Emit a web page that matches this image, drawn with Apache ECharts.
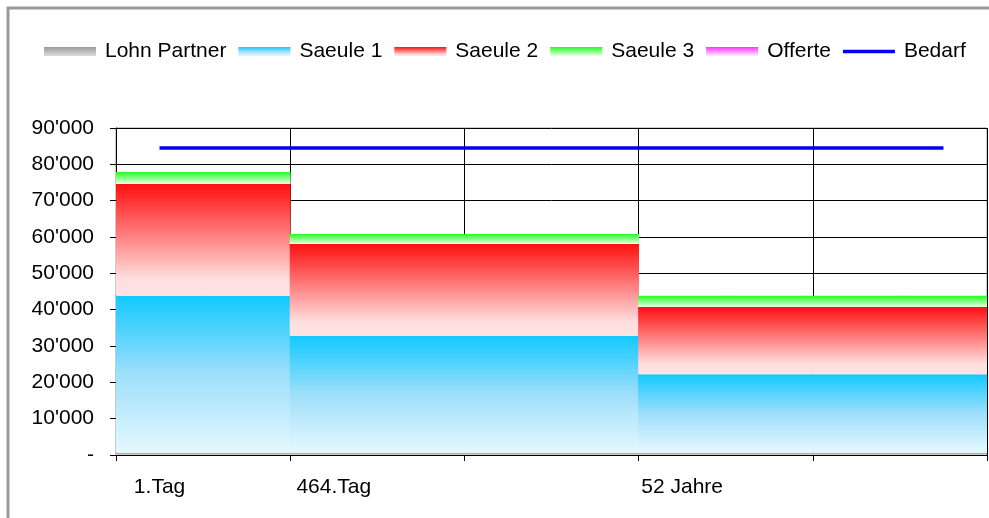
<!DOCTYPE html>
<html>
<head>
<meta charset="utf-8">
<style>
  html, body { margin: 0; padding: 0; background: #fff; }
  #chart { width: 989px; height: 518px; }
</style>
<script src="https://cdn.jsdelivr.net/npm/echarts@6/dist/echarts.min.js"></script>
</head>
<body>
<div id="chart"></div>
<script>
// 10 Kategorien, Beschriftung nur bei einigen
var categories = ['1.Tag', '', '464.Tag', '', '', '', '52 Jahre', '', '', ''];
var lohnPartner = [600, 600, 600, 600, 600, 600, 600, 600, 600, 600];
var saeule1 = [43200, 43200, 32200, 32200, 32200, 32200, 21600, 21600, 21600, 21600];
var saeule2 = [30800, 30800, 25300, 25300, 25300, 25300, 18500, 18500, 18500, 18500];
var saeule3 = [3300, 3300, 2700, 2700, 2700, 2700, 3100, 3100, 3100, 3100];
var offerte = [0, 0, 0, 0, 0, 0, 0, 0, 0, 0];
var bedarf = [84500, 84500, 84500, 84500, 84500, 84500, 84500, 84500, 84500, 84500];
var yTicks = { min: 0, max: 90000, step: 10000 };

var FONT = 'Liberation Sans, Arial, sans-serif';

function grad(stops) {
  return new echarts.graphic.LinearGradient(0, 0, 0, 1, stops.map(function (s) {
    return { offset: s[0], color: s[1] };
  }));
}

var colGray = grad([[0, '#9a9a9a'], [1, '#dcdcdc']]);
var colBlue = grad([[0, '#12c9ff'], [0.5, '#9edffa'], [1, '#e6f8ff']]);
var colRed = grad([[0, '#ff1010'], [0.85, '#ffdede'], [1, '#ffe2e2']]);
var colGreen = grad([[0, '#22ff22'], [1, '#eaffea']]);
var colMagenta = grad([[0, '#ff33ff'], [1, '#fff0ff']]);

function fmt(v) {
  if (v === 0) return '-';
  return String(v).replace(/\B(?=(\d{3})+(?!\d))/g, "'");
}

// jede zweite Kategorie-Grenze
function everyOther(i) { return i % 2 === 0; }

function barSeries(name, data, color) {
  return {
    name: name,
    type: 'bar',
    stack: 'total',
    data: data,
    barWidth: 88,   // etwas breiter als die Kategorie, damit keine Fugen sichtbar sind
    clip: true,
    itemStyle: { color: color, borderWidth: 0 },
    emphasis: { disabled: true },
    animation: false
  };
}

var lineIcon = 'path://M0,0L52,0L52,0.01L0,0.01Z M0,2.8L52,2.8L52,6.2L0,6.2Z M0,8.99L52,8.99L52,9L0,9Z';

var chart = echarts.init(document.getElementById('chart'));
chart.setOption({
  backgroundColor: '#fff',
  animation: false,
  graphic: [{
    type: 'rect',
    shape: { x: 8, y: 8, width: 1000, height: 530 },
    style: { fill: 'none', stroke: '#9a9a9a', lineWidth: 3 },
    silent: true
  }],
  legend: {
    top: 41,
    left: 44,
    padding: 0,
    itemWidth: 52,
    itemHeight: 9,
    itemGap: 12,
    icon: 'rect',
    textStyle: { fontFamily: FONT, fontSize: 21, color: '#000', padding: [0, 0, 0, 4] },
    data: [
      'Lohn Partner', 'Saeule 1', 'Saeule 2', 'Saeule 3', 'Offerte',
      { name: 'Bedarf', icon: lineIcon }
    ]
  },
  grid: {
    left: 116, right: 2, top: 128, bottom: 63,
    show: true, borderColor: '#999', borderWidth: 1,
    containLabel: false
  },
  xAxis: {
    type: 'category',
    data: categories,
    boundaryGap: true,
    axisLine: { lineStyle: { color: '#000', width: 1 } },
    axisTick: { show: true, interval: everyOther, length: 6, lineStyle: { color: '#000' } },
    axisLabel: {
      interval: 0, margin: 22,
      fontFamily: FONT, fontSize: 21, color: '#000'
    },
    splitLine: { show: true, interval: everyOther, lineStyle: { color: '#000', width: 1 } }
  },
  yAxis: {
    type: 'value',
    min: yTicks.min,
    max: yTicks.max,
    interval: yTicks.step,
    axisLine: { show: true, lineStyle: { color: '#000', width: 1 } },
    axisTick: { show: true, length: 6, lineStyle: { color: '#000' } },
    axisLabel: {
      margin: 22,
      fontFamily: FONT, fontSize: 21, color: '#000',
      formatter: fmt
    },
    splitLine: { show: true, lineStyle: { color: '#000', width: 1 } }
  },
  series: [
    barSeries('Lohn Partner', lohnPartner, colGray),
    barSeries('Saeule 1', saeule1, colBlue),
    barSeries('Saeule 2', saeule2, colRed),
    barSeries('Saeule 3', saeule3, colGreen),
    barSeries('Offerte', offerte, colMagenta),
    {
      name: 'Bedarf',
      type: 'line',
      data: bedarf,
      symbol: 'none',
      color: '#0000ee',
      lineStyle: { color: '#0000ee', width: 3.5 },
      z: 5,
      animation: false
    }
  ]
});
</script>
</body>
</html>
